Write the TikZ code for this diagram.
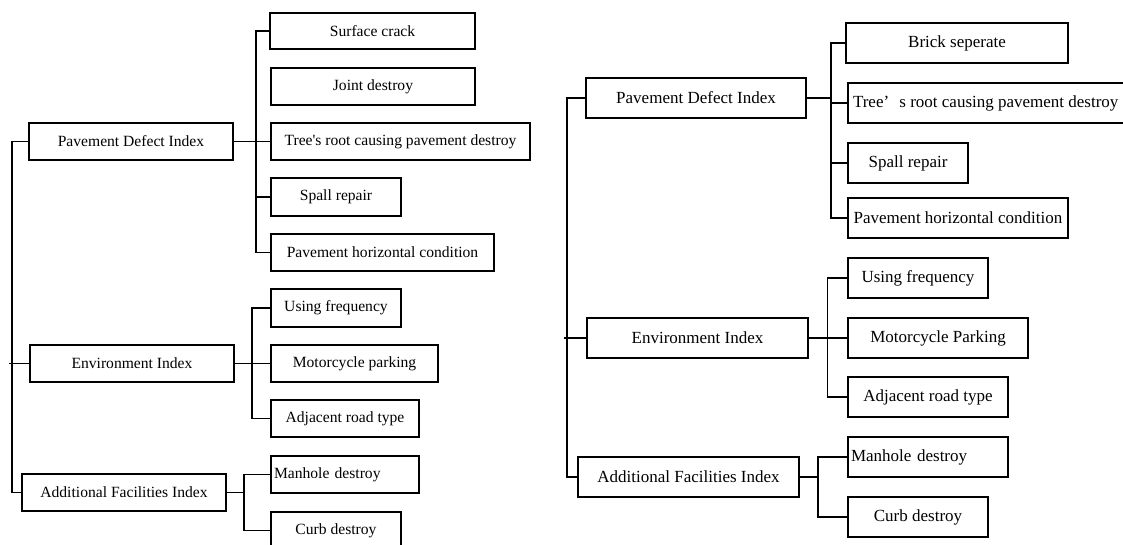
\documentclass[tikz,border=0pt]{standalone}
\usepackage{fontspec}
\setmainfont{Liberation Serif}
\newfontfamily\aposfont[Ligatures=TeXOff]{Liberation Serif}
\tikzset{
  box/.style={draw, line width=1.1pt, inner sep=0pt, align=center},
  ltxt/.style={align=left, inner xsep=3pt},
  conn/.style={line width=1.1pt, line cap=rect},
  tconn/.style={line width=1.8pt},
}
\newcommand{\bbox}[7][]{\node[box,#1,minimum width={(#5-#3)*1pt},minimum height={(#6-#4)*1pt}] (#2) at ({(#3+#5)/2},{(#4+#6)/2}) {#7};}
\begin{document}
\begin{tikzpicture}[x=1pt,y=-1pt]
\useasboundingbox (0,0) rectangle (1123,544);
% ---------------- left diagram ----------------
\begin{scope}[font=\fontsize{15.6}{18}\selectfont]
\bbox{lA}{29}{123}{233}{160}{Pavement Defect Index}
\bbox{lB}{30}{345}{234}{382}{Environment Index}
\bbox{lC}{22}{474}{226}{511}{Additional Facilities Index}
\bbox{ls1}{270}{13}{475}{49}{Surface crack}
\bbox{ls2}{271}{68}{475}{105}{Joint destroy}
\bbox{ls3}{271}{123}{530}{160}{Tree{\aposfont'}s root causing pavement destroy}
\bbox{ls4}{271}{178}{401}{216}{Spall repair}
\bbox{ls5}{271}{234}{494}{271}{Pavement horizontal condition}
\bbox{le1}{271}{289}{401}{327}{Using frequency}
\bbox{le2}{271}{345}{438}{382}{Motorcycle parking}
\bbox{le3}{271}{400}{419}{437}{Adjacent road type}
\bbox[ltxt,text width=142pt]{lf1}{271}{456}{419}{493}{Manhole destroy}
\bbox{lf2}{271}{512}{401}{549}{Curb destroy}
\end{scope}
\coordinate (lT) at (12,0);
\coordinate (lPb) at (256,0);
\coordinate (lEb) at (252,0);
\coordinate (lFb) at (244,0);
\draw[conn] (lA.west) -- (lT |- lA.west) -- (lT |- lC.west) -- (lC.west);
\draw[conn] ([xshift=-2pt]lT |- lB.west) -- (lB.west);
\draw[tconn] (lA.east) -- (lPb |- lA.east);
\draw[conn] (ls1.west) -- (lPb |- ls1.west) -- (lPb |- ls5.west) -- (ls5.west);
\draw[conn] (lPb |- ls3.west) -- (ls3.west);
\draw[conn] (lPb |- ls4.west) -- (ls4.west);
\draw[conn] (le1.west) -- (lEb |- le1.west) -- (lEb |- le3.west) -- (le3.west);
\draw[conn] (lB.east) -- (le2.west);
\draw[conn] (lf1.west) -- (lFb |- lf1.west) -- (lFb |- lf2.west) -- (lf2.west);
\draw[conn] (lC.east) -- (lFb |- lC.east);
% ---------------- right diagram ----------------
\begin{scope}[font=\fontsize{17}{20}\selectfont]
\bbox{rA}{586}{78}{806}{118}{Pavement Defect Index}
\bbox{rB}{587}{318}{808}{358}{Environment Index}
\bbox{rC}{578}{457}{799}{497}{Additional Facilities Index}
\bbox{rs1}{846}{23}{1068}{63}{Brick seperate}
\bbox[inner xsep=0pt]{rs2}{848}{83}{1130}{123}{\makebox[282pt][l]{\hspace{5pt}Tree’\hspace{0.6em}s root causing pavement destroy}}
\bbox{rs3}{848}{143}{968}{183}{Spall repair}
\bbox{rs4}{848}{198}{1068}{238}{Pavement horizontal condition}
\bbox{re1}{848}{258}{988}{298}{Using frequency}
\bbox{re2}{848}{318}{1028}{358}{Motorcycle Parking}
\bbox{re3}{848}{377}{1008}{417}{Adjacent road type}
\bbox[ltxt,text width=154pt]{rf1}{848}{437}{1008}{477}{Manhole destroy}
\bbox{rf2}{848}{497}{988}{537}{Curb destroy}
\end{scope}
\coordinate (rT) at (567,0);
\coordinate (rPb) at (831,0);
\coordinate (rEb) at (827.5,0);
\coordinate (rFb) at (818,0);
\draw[conn] (rA.west) -- (rT |- rA.west) -- (rT |- rC.west) -- (rC.west);
\draw[conn] ([xshift=-2pt]rT |- rB.west) -- (rB.west);
\draw[tconn] (rA.east) -- (rPb |- rA.east);
\draw[conn] (rs1.west) -- (rPb |- rs1.west) -- (rPb |- rs4.west) -- (rs4.west);
\draw[conn] (rPb |- rs2.west) -- (rs2.west);
\draw[conn] (rPb |- rs3.west) -- (rs3.west);
\draw[conn] (re1.west) -- (rEb |- re1.west) -- (rEb |- re3.west) -- (re3.west);
\draw[conn] (rB.east) -- (re2.west);
\draw[conn] (rf1.west) -- (rFb |- rf1.west) -- (rFb |- rf2.west) -- (rf2.west);
\draw[conn] (rC.east) -- (rFb |- rC.east);
\end{tikzpicture}
\end{document}
